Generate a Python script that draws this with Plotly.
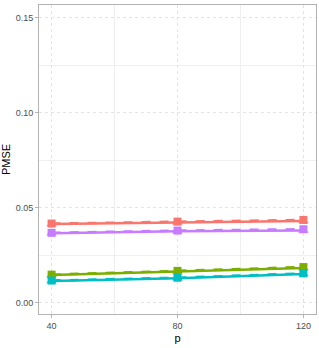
import plotly.graph_objects as go

p = [40, 80, 120]
red_a = [0.0416, 0.0425, 0.0432]
red_b = [0.0418, 0.0428, 0.0437]
purple_a = [0.0367, 0.0378, 0.0382]
purple_b = [0.0369, 0.0381, 0.0388]
green_a = [0.0147, 0.0166, 0.0184]
green_b = [0.0149, 0.0169, 0.0189]
cyan_a = [0.0116, 0.0130, 0.0152]
cyan_b = [0.0118, 0.0133, 0.0156]

series = [
    ("#F8766D", red_a, red_b),
    ("#C77CFF", purple_a, purple_b),
    ("#7CAE00", green_a, green_b),
    ("#00BFC4", cyan_a, cyan_b),
]

fig = go.Figure()
for color, a, b in series:
    fig.add_trace(go.Scatter(x=p, y=b, mode="lines+markers",
                             line=dict(color=color, width=2.5, dash="dash"),
                             marker=dict(symbol="square", size=8, color=color),
                             showlegend=False))
    fig.add_trace(go.Scatter(x=p, y=a, mode="lines+markers",
                             line=dict(color=color, width=2.5),
                             marker=dict(symbol="triangle-up", size=9, color=color),
                             showlegend=False))

axis_common = dict(
    showline=True, linecolor="#B3B3B3", linewidth=1, mirror=True,
    gridcolor="#E3E3E3", griddash="dot", gridwidth=0.8,
    ticks="outside", ticklen=3, tickcolor="#B3B3B3",
    tickfont=dict(family="Liberation Sans, Arial", size=9, color="#4D4D4D"),
    zeroline=False,
    minor=dict(showgrid=True, gridcolor="#EFEFEF", gridwidth=0.6, griddash="solid"),
)

fig.update_layout(
    width=319, height=348,
    margin=dict(l=39, r=3, t=5, b=34),
    plot_bgcolor="white", paper_bgcolor="white",
    xaxis=dict(range=[36, 124], tickvals=[40, 80, 120],
               title=dict(text="p", font=dict(family="Liberation Sans, Arial", size=11, color="black"), standoff=4),
               **axis_common),
    yaxis=dict(range=[-0.0058, 0.1568], tickvals=[0, 0.05, 0.10, 0.15],
               ticktext=["0.00", "0.05", "0.10", "0.15"],
               title=dict(text="PMSE", font=dict(family="Liberation Sans, Arial", size=11, color="black"), standoff=4),
               **axis_common),
)
fig.update_xaxes(minor=dict(tickvals=[60, 100]))
fig.update_yaxes(minor=dict(tickvals=[0.025, 0.075, 0.125]))

fig.write_html("out.html", config={"displayModeBar": False},
               post_script="document.body.style.margin='0';document.body.style.overflow='hidden';")
